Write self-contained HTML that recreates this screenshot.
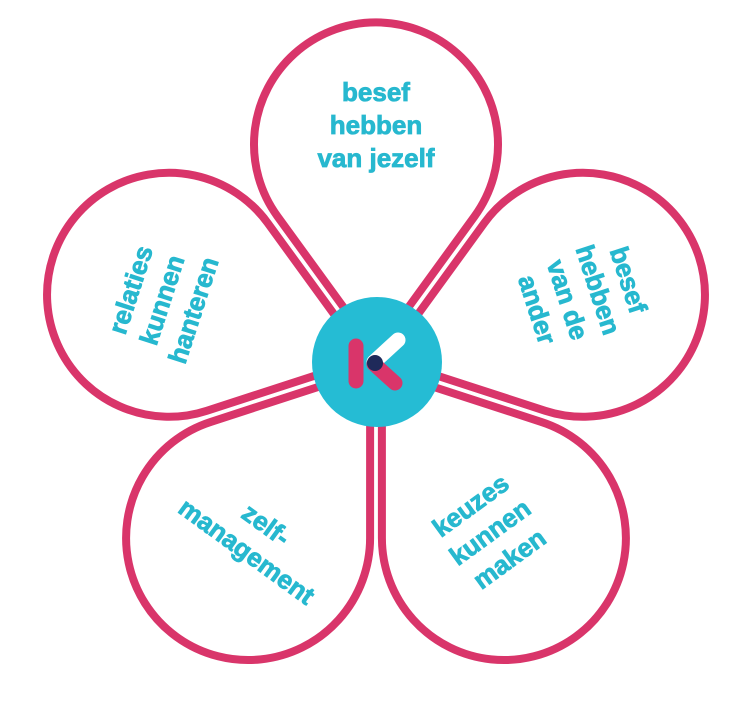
<!DOCTYPE html>
<html><head><meta charset="utf-8"><style>
html,body{margin:0;padding:0;background:#fff;}
svg{display:block}
text{font-family:"Liberation Sans",sans-serif;font-weight:bold;font-size:26px;fill:#27b8cf;text-anchor:middle;stroke:#27b8cf;stroke-width:0.8}
</style></head><body>
<svg width="745" height="704" viewBox="0 0 745 704" xmlns="http://www.w3.org/2000/svg">
<defs>
<path id="p" d="M0,-10 L-98.7,-145.9 A122,122 0 1 1 98.7,-145.9 Z"/>
</defs>
<g transform="translate(376,362)" fill="#fff" stroke="#d9356a" stroke-width="8" stroke-linejoin="round">
<use href="#p" transform="rotate(0)"/>
<use href="#p" transform="rotate(72)"/>
<use href="#p" transform="rotate(144)"/>
<use href="#p" transform="rotate(216)"/>
<use href="#p" transform="rotate(288)"/>
</g>
<circle cx="377" cy="362" r="65" fill="#25bcd4"/>
<line x1="356" y1="346" x2="356" y2="381" stroke="#d9356a" stroke-width="15" stroke-linecap="round"/>
<line x1="398" y1="340" x2="374" y2="362" stroke="#fff" stroke-width="15" stroke-linecap="round"/>
<line x1="374" y1="364" x2="395" y2="383" stroke="#d9356a" stroke-width="15" stroke-linecap="round"/>
<circle cx="375" cy="363" r="8" fill="#1f2a5a"/>
<g transform="translate(376,125)"><text y="-24">besef</text><text y="9">hebben</text><text y="42">van jezelf</text></g>
<g transform="translate(582,295) rotate(72)"><text y="-40">besef</text><text y="-8">hebben</text><text y="24">van de</text><text y="56">ander</text></g>
<g transform="translate(162,300) rotate(-72)"><text y="-24">relaties</text><text y="9">kunnen</text><text y="42">hanteren</text></g>
<g transform="translate(490,532) rotate(-36)"><text y="-24">keuzes</text><text y="9">kunnen</text><text y="42">maken</text></g>
<g transform="translate(255,540) rotate(36)"><text y="-10">zelf-</text><text y="23">management</text></g>
</svg>
</body></html>
